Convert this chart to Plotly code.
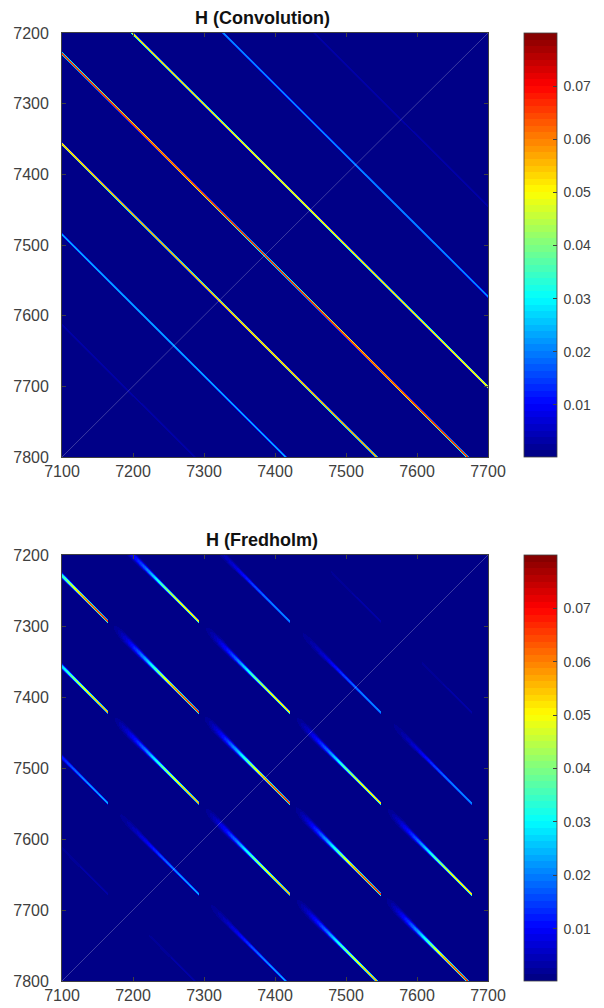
import numpy as np
import plotly.graph_objects as go

# --- values ---
col_start, col_stop = 7100, 7700
row_start, row_stop = 7200, 7800
axis_x_ticks = [7100, 7200, 7300, 7400, 7500, 7600, 7700]
axis_y_ticks = [7200, 7300, 7400, 7500, 7600, 7700, 7800]
cbar_ticks = [0.01, 0.02, 0.03, 0.04, 0.05, 0.06, 0.07]
cbar_labels = ["0.01", "0.02", "0.03", "0.04", "0.05", "0.06", "0.07"]
z_min, z_max = 0.0002, 0.08
background = 0.0002

# diagonal bands: row - col offset, and peak value
band_offsets = [-255, -127, 1, 129, 257, 385, 513]
band_peaks = [0.003, 0.021, 0.052, 0.066, 0.055, 0.023, 0.003]
conv_band_sigma = 0.9
band_core_half = 0.9

# Fredholm: where each block segment ends
segment_end_cols = [7165, 7293, 7421, 7549, 7677]
segment_end_rows = [7294, 7422, 7550, 7678, 7806]
segment_length = 128
# read along a segment: fraction of length, share of its peak, band width
seg_fraction = [0.0, 0.1, 0.2, 0.3, 0.4, 0.5, 0.6, 0.7, 0.8, 1.0]
seg_share = [0.0, 0.03, 0.1, 0.2, 0.33, 0.5, 0.7, 0.85, 0.95, 1.0]
seg_sigma = [6.0, 5.0, 4.2, 3.4, 2.6, 2.0, 1.6, 1.3, 1.1, 0.9]

W, H = 604, 1008
FONT = "Liberation Sans, Arial, sans-serif"
INK = "#404040"
LEFT, RIGHT = 62, 488
TITLE_X = 262
CB_LEFT, CB_WIDTH = 524, 33


def grid(n_x, n_y):
    # one heatmap cell per screen pixel, so the bands stay continuous
    step_x = (col_stop - col_start) / n_x
    step_y = (row_stop - row_start) / n_y
    cols = col_start + (np.arange(n_x) + 0.5) * step_x
    rows = row_start + (np.arange(n_y) + 0.5) * step_y
    C, R = np.meshgrid(cols, rows)
    return cols, rows, C, R


def band(D, off, sigma):
    d = np.maximum(0, np.abs(D - off) - band_core_half)
    return np.exp(-(d ** 2) / (2 * sigma ** 2))


def convolution(C, R):
    D = R - C
    z = np.full(D.shape, background, dtype=float)
    for off, peak in zip(band_offsets, band_peaks):
        z += peak * band(D, off, conv_band_sigma)
    return z


def fredholm(C, R):
    D = R - C
    z = np.full(D.shape, background, dtype=float)
    for er in segment_end_rows:
        for ec in segment_end_cols:
            off = er - ec
            if off not in band_offsets:
                continue
            peak = band_peaks[band_offsets.index(off)]
            s = (C - (ec - segment_length)) / segment_length
            mask = (s >= 0) & (s <= 1)
            share = np.interp(s, seg_fraction, seg_share)
            sigma = np.interp(s, seg_fraction, seg_sigma)
            z += mask * peak * share * band(D, off, sigma)
    return z


# MATLAB jet, 64 levels
def jet(t):
    r = np.clip(min(4 * t - 1.5, -4 * t + 4.5), 0, 1)
    g = np.clip(min(4 * t - 0.5, -4 * t + 3.5), 0, 1)
    b = np.clip(min(4 * t + 0.5, -4 * t + 2.5), 0, 1)
    return f"rgb({round(r*255)},{round(g*255)},{round(b*255)})"


levels = 64
jet_scale = []
for i in range(levels):
    c = jet((i + 0.5) / levels)
    jet_scale += [[i / levels, c], [(i + 1) / levels, c]]

panels = [
    (convolution, "H (Convolution)", 33, 457, "x", "y"),
    (fredholm, "H (Fredholm)", 555, 981, "x2", "y2"),
]

fig = go.Figure()
layout = dict(
    width=W, height=H, margin=dict(l=0, r=0, t=0, b=0, autoexpand=False),
    paper_bgcolor="white", plot_bgcolor="white",
    font=dict(family=FONT, color=INK), showlegend=False,
    annotations=[], shapes=[],
)
for idx, (model, title, top, bottom, xa, ya) in enumerate(panels):
    cols, rows, C, R = grid(RIGHT - LEFT, bottom - top)
    fig.add_trace(go.Heatmap(
        x=cols, y=rows, z=model(C, R), xaxis=xa, yaxis=ya,
        zmin=z_min, zmax=z_max, colorscale=jet_scale, zsmooth="fast",
        hoverinfo="skip",
        colorbar=dict(
            x=CB_LEFT / W, xanchor="left", xpad=0,
            y=1 - bottom / H, yanchor="bottom", ypad=0,
            len=(bottom - top) / H, lenmode="fraction",
            thickness=CB_WIDTH, thicknessmode="pixels",
            outlinecolor=INK, outlinewidth=0.8,
            ticks="inside", ticklen=4, tickwidth=0.6, tickcolor=INK,
            tickvals=cbar_ticks, ticktext=["\u2009" + t for t in cbar_labels],
            tickfont=dict(family=FONT, size=14, color=INK),
        ),
    ))
    suffix = "" if idx == 0 else "2"
    layout["xaxis" + suffix] = dict(
        domain=[LEFT / W, RIGHT / W], range=[col_start, col_stop],
        anchor="y" + suffix, tickvals=axis_x_ticks, ticks="inside", ticklen=4,
        tickwidth=0.6, tickcolor=INK, showgrid=False, zeroline=False,
        showline=True, linecolor=INK, linewidth=0.8, mirror="ticks",
        tickfont=dict(family=FONT, size=16, color=INK), tickformat="d",
    )
    layout["yaxis" + suffix] = dict(
        domain=[1 - bottom / H, 1 - top / H], range=[row_stop, row_start],
        anchor="x" + suffix, tickvals=axis_y_ticks, ticks="inside", ticklen=4,
        tickwidth=0.6, tickcolor=INK, showgrid=False, zeroline=False,
        showline=True, linecolor=INK, linewidth=0.8, mirror="ticks",
        ticklabelstandoff=9,
        tickfont=dict(family=FONT, size=16, color=INK), tickformat="d",
    )
    layout["annotations"].append(dict(
        text=f"<b>{title}</b>", xref="paper", yref="paper",
        x=TITLE_X / W, y=1 - (top - 3) / H,
        xanchor="center", yanchor="bottom", showarrow=False,
        font=dict(family=FONT, size=18, color="#111111"),
    ))
    layout["shapes"].append(dict(
        type="line", xref=xa, yref=ya, x0=col_start, y0=row_stop,
        x1=col_stop, y1=row_start, line=dict(color="rgba(255,255,255,0.4)", width=0.6),
    ))

fig.update_layout(**layout)
fig.write_html("out.html", config={"displayModeBar": False},
               post_script="document.body.style.margin='0';")
